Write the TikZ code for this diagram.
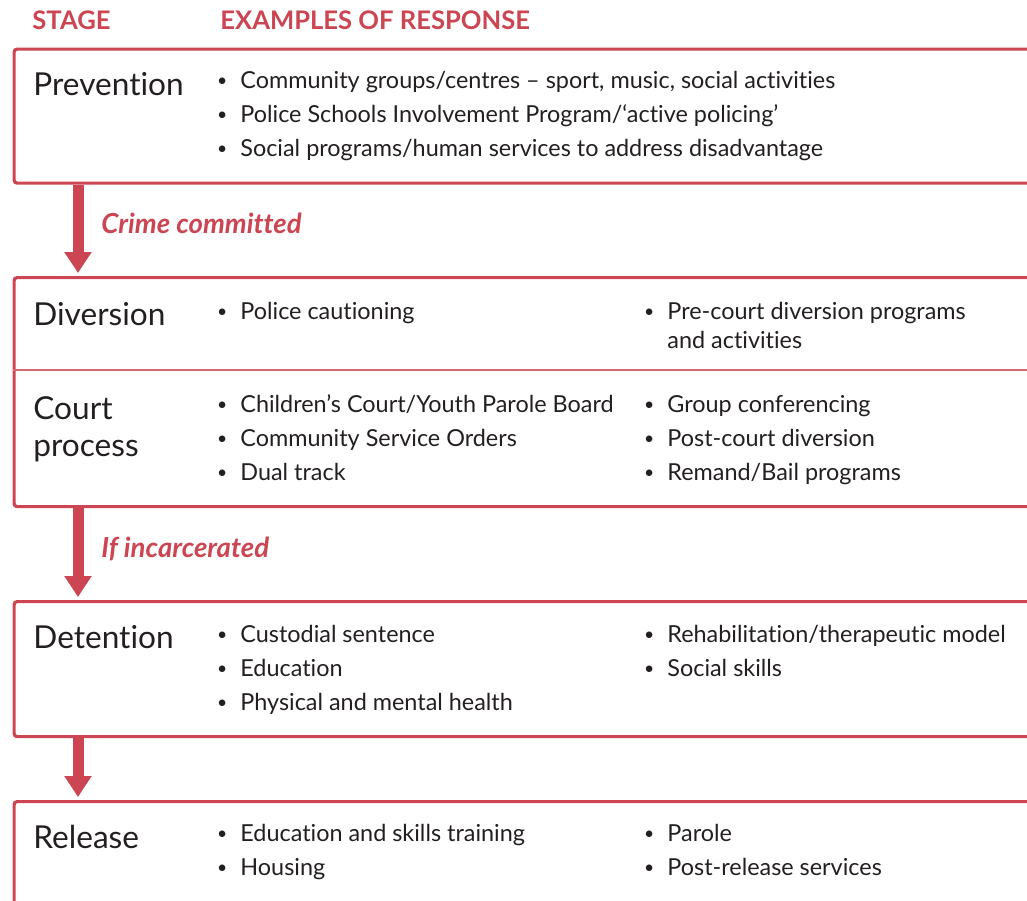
\documentclass[tikz,border=0pt]{standalone}
\usepackage{fontspec}
\setmainfont{Lato}[Ligatures=NoCommon]
\usetikzlibrary{arrows.meta,positioning}

\definecolor{stagered}{RGB}{203,69,82}
\definecolor{inkgrey}{RGB}{35,31,32}

\newcommand{\bul}{\llap{\raisebox{0.12ex}{\scalebox{0.75}{\textbullet}}\hspace{6.5pt}}}

\begin{document}
\begin{tikzpicture}[x=0.5pt,y=-0.5pt,
    stagebox/.style={draw=stagered, line width=1.6pt, rounded corners=1.5pt,
        anchor=north west, minimum width=514pt, inner sep=0pt},
    sepline/.style={draw=stagered!80, line width=1pt},
    flow/.style={draw=stagered, line width=5.5pt,
        -{Triangle[width=13pt,length=10.5pt]}, shorten >=1.5pt},
    head/.style={anchor=base west, inner sep=0pt, text=stagered, font=\bfseries\fontsize{12.8}{14}\selectfont},
    stage/.style={anchor=base west, inner sep=0pt, text=inkgrey, font=\fontsize{15.8}{18.5}\selectfont, align=left},
    resp/.style={anchor=base west, inner sep=0pt, text=inkgrey, font=\fontsize{11.7}{14.5}\selectfont, align=left},
    cond/.style={anchor=base west, inner sep=0pt, text=stagered, font=\bfseries\itshape\fontsize{13.8}{15}\selectfont}]

        \useasboundingbox (0,0) rectangle (1027,900);

        \coordinate (ax) at (78,0);

        % headings
        \node[head] (hstage) at (32,29) {STAGE};
        \node[head] (hresp) at (220,29) {EXAMPLES OF RESPONSE};

        % boxes
        \node[stagebox, minimum height=67pt] (prev) at (12.5,47.5) {};
        \node[stagebox, minimum height=114.5pt] (div) at (12.5,276) {};
        \node[stagebox, minimum height=67.5pt] (det) at (12.5,600) {};
        \node[stagebox, minimum height=80pt] (rel) at (12.5,800) {};

        \path[sepline] (12.5,370) -- (1040,370);

        % arrows between stages
        \path[flow] (prev.south -| ax) -- (div.north -| ax);
        \path[flow] (div.south -| ax) -- (det.north -| ax);
        \path[flow] (det.south -| ax) -- (rel.north -| ax);

        \node[cond] (crime) at (101,233) {Crime committed};
        \node[cond] (incar) at (101,557) {If incarcerated};

        % stage names (base of last line)
        \node[stage] (sprev) at (33,95) {Prevention};
        \node[stage] (sdiv) at (33,325) {Diversion};
        \node[stage] (scourt) at (33,456) {Court\\process};
        \node[stage] (sdet) at (33,648) {Detention};
        \node[stage] (srel) at (33,848) {Release};

        % responses
        \node[resp] (p1) at (240,88) {\bul Community groups/centres -- sport, music, social activities};
        \node[resp] (p2) at (240,122) {\bul Police Schools Involvement Program/‘active policing’};
        \node[resp] (p3) at (240,156) {\bul Social programs/human services to address disadvantage};

        \node[resp] (d1) at (240,319) {\bul Police cautioning};
        \node[resp] (d2) at (667,348) {\bul Pre-court diversion programs\\and activities};

        \node[resp] (c1) at (240,412) {\bul Children’s Court/Youth Parole Board};
        \node[resp] (c2) at (240,446) {\bul Community Service Orders};
        \node[resp] (c3) at (240,480) {\bul Dual track};
        \node[resp] (c4) at (667,412) {\bul Group conferencing};
        \node[resp] (c5) at (667,446) {\bul Post-court diversion};
        \node[resp] (c6) at (667,480) {\bul Remand/Bail programs};

        \node[resp] (t1) at (240,642) {\bul Custodial sentence};
        \node[resp] (t2) at (240,676) {\bul Education};
        \node[resp] (t3) at (240,710) {\bul Physical and mental health};
        \node[resp] (t4) at (667,642) {\bul Rehabilitation/therapeutic model};
        \node[resp] (t5) at (667,676) {\bul Social skills};

        \node[resp] (r1) at (240,841) {\bul Education and skills training};
        \node[resp] (r2) at (240,875) {\bul Housing};
        \node[resp] (r3) at (667,841) {\bul Parole};
        \node[resp] (r4) at (667,875) {\bul Post-release services};

    \end{tikzpicture}
\end{document}
